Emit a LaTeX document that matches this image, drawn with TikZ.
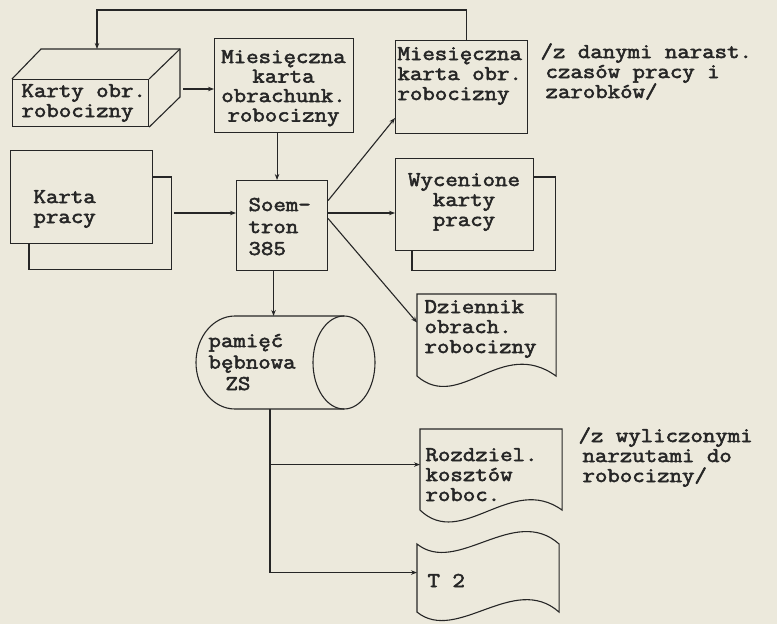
\documentclass[tikz,border=0pt]{standalone}
\usepackage{fontspec}
\newfontfamily\tw{Latin Modern Mono}[FakeBold=2.6,FakeStretch=1.15]
\usetikzlibrary{arrows.meta,calc}
\definecolor{bg}{RGB}{236,233,220}
\definecolor{ink}{RGB}{38,38,38}
\newcommand\tl[2][20pt]{\vtop{\baselineskip=#1\lineskiplimit=-\maxdimen\halign{##\hfil\cr#2\crcr}}}
\newcommand\tc[2][20pt]{\vtop{\baselineskip=#1\lineskiplimit=-\maxdimen\halign{\hfil##\hfil\cr#2\crcr}}}
\begin{document}
\begin{tikzpicture}[x=1pt,y=-1pt,line width=1.1pt,
  box/.style={draw=ink,rectangle,inner sep=0pt,anchor=north west},
  frame/.style={rectangle,inner sep=0pt,anchor=north west},
  txt/.style={inner sep=0pt,anchor=base west,text=ink,font=\tw\fontsize{21}{20}\selectfont},
  ctxt/.style={txt,anchor=base},
  ln/.style={draw=ink},
  arr/.style={draw=ink,-{Stealth[length=6pt,width=4.5pt]}}]
\fill[bg] (0,0) rectangle (777,624);
\useasboundingbox (0,0) rectangle (777,624);

% Karty obr. robocizny (3D box)
\node[box,minimum width=136pt,minimum height=47pt] (kob) at (12,79) {};
\coordinate (kobB) at (180,49);
\draw[ln] (kob.north west) -- ++(29,-30) -- (kobB) -- (180,97) -- (kob.south east);
\draw[ln] (kob.north east) -- (kobB);
\node[txt] (kobt) at (21,97) {\tl{Karty obr.\cr robocizny}};
\coordinate (kobTop) at (97,49);
\coordinate (kobR) at (183,89);

% Miesieczna karta obrachunk.
\node[box,minimum width=139pt,minimum height=94pt] (mko) at (214,38) {};
\node[ctxt] (mkot) at (283.5,63) {\tc[19.5pt]{Miesięczna\cr karta\cr obrachunk.\cr robocizny}};

% Miesieczna karta obr.
\node[box,minimum width=132pt,minimum height=93pt] (mkr) at (395,40) {};
\node[txt] (mkrt) at (397,60) {\tl{Miesięczna\cr karta obr.\cr robocizny}};
\node[txt] (ann1) at (540,58) {\tl{/z danymi narast.\cr\kern5pt czasów pracy i\cr\kern5pt zarobków/}};

% Karta pracy (stack)
\node[box,minimum width=142pt,minimum height=93pt] (kp) at (10,150) {};
\draw[ln] ($(kp.south west)+(19,0)$) |- ($(kp.south east)+(18,25)$) |- ($(kp.north east)+(0,27)$);
\node[txt] (kpt) at (33,203) {\tl{Karta\cr pracy}};
\coordinate (kpR) at (174,213);

% Soemtron
\node[box,minimum width=91pt,minimum height=90pt] (soem) at (236,180) {};
\node[txt] (soemt) at (248,211) {\tl[22pt]{Soem-\cr tron\cr 385}};

% Wycenione karty pracy (stack)
\node[box,minimum width=138pt,minimum height=92pt] (wyc) at (395,158) {};
\draw[ln] ($(wyc.south west)+(17,0)$) |- ($(wyc.south east)+(21,19)$) |- ($(wyc.north east)+(0,19)$);
\node[ctxt] (wyct) at (464,186) {\tc{Wycenione\cr karty\cr pracy}};

% Dziennik (document)
\node[frame,minimum width=138pt,minimum height=81pt] (dz) at (417,294) {};
\draw[ln] (dz.south west) -- (dz.north west) -- (dz.north east) -- (dz.south east)
  .. controls ($(dz.south east)+(-55,-40)$) and ($(dz.south west)+(43,37)$) .. (dz.south west);
\node[txt] (dzt) at (424,313) {\tl{Dziennik\cr obrach.\cr robocizny}};

% Drum
\node[frame,minimum width=179pt,minimum height=93pt] (drum) at (196,316) {};
\draw[ln] (344,316) -- (235,316) arc[start angle=90,end angle=270,x radius=39pt,y radius=46.5pt] -- (344,409);
\draw[ln] (344,362.5) ellipse [x radius=31pt,y radius=46.5pt];
\node[txt] (drumt) at (208,347) {\tl[21.5pt]{pamięć\cr bębnowa\cr\kern17pt ZS}};
\coordinate (dB) at (270,409);

% Rozdziel. kosztow (document)
\node[frame,minimum width=141pt,minimum height=80pt] (rk) at (420,429) {};
\draw[ln] (rk.south west) -- (rk.north west) -- (rk.north east) -- (rk.south east)
  .. controls ($(rk.south east)+(-51,-37)$) and ($(rk.south west)+(42,40)$) .. (rk.south west);
\node[txt] (rkt) at (425,461) {\tl{Rozdziel.\cr kosztów\cr roboc.}};
\node[txt] (ann2) at (578,442) {\tl{/z wyliczonymi\cr\kern4pt narzutami do\cr\kern4pt robocizny/}};

% T 2 (tape)
\node[frame,minimum width=141pt,minimum height=67pt] (t2) at (417,544) {};
\draw[ln] (t2.north west) .. controls ($(t2.north west)+(40,32)$) and ($(t2.north east)+(-45,-40)$) .. (t2.north east) -- (t2.south east)
  .. controls ($(t2.south east)+(-45,-40)$) and ($(t2.south west)+(40,32)$) .. (t2.south west) -- cycle;
\node[txt] (t2t) at (427,587) {T 2};

% connectors
\draw[arr] ([xshift=5pt]mkr.north) -- ++(0,-30) -| (kobTop);
\draw[arr] (kobR) -- (kobR -| mko.west);
\draw[arr] ([xshift=-7pt]mko.south) -- ([xshift=-7pt]mko.south |- soem.north);
\draw[arr] (kpR) -- (kpR -| soem.west);
\draw[arr] (kpR -| soem.east) -- (kpR -| wyc.west);
\draw[arr] ([yshift=25pt]soem.east) -- ([yshift=-31pt]mkr.west);
\draw[arr] ([yshift=7pt]soem.east) -- ([yshift=12.5pt]dz.west);
\draw[arr] ([xshift=-8.5pt]soem.south) -- ([xshift=-8.5pt]soem.south |- drum.north);
\draw[arr] (dB) |- ([yshift=5pt]rk.west);
\draw[arr] (dB) |- ([yshift=5.5pt]t2.west);
\end{tikzpicture}
\end{document}
